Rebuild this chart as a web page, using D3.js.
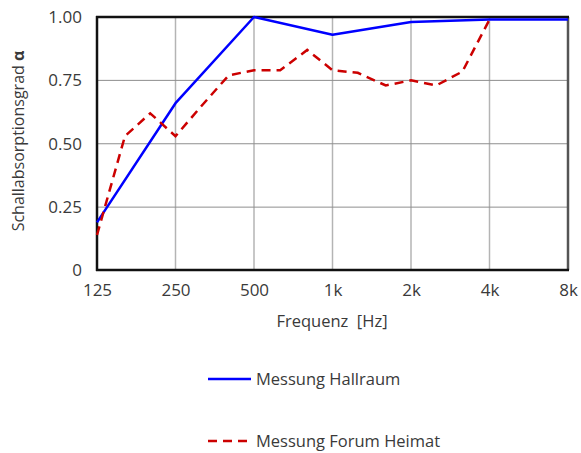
<!DOCTYPE html>
<html>
<head>
<meta charset="utf-8">
<script src="https://cdn.jsdelivr.net/npm/d3@7/dist/d3.min.js"></script>
<style>
  html, body { margin: 0; padding: 0; background: #fff; }
  svg { display: block; font-family: "Open Sans", "Noto Sans", sans-serif; }
</style>
</head>
<body>
<svg id="chart" width="581" height="453"></svg>
<script>
// Octave tick frequencies and their labels
const octaveFreqs = [125, 250, 500, 1000, 2000, 4000, 8000];
const octaveLabels = ["125", "250", "500", "1k", "2k", "4k", "8k"];
const yTicks = [0, 0.25, 0.5, 0.75, 1.0];
const yTickLabels = ["0", "0.25", "0.50", "0.75", "1.00"];

// Reverberation room measurement (octave bands)
const hallFreqs = [125, 250, 500, 1000, 2000, 4000, 8000];
const hallAlpha = [0.19, 0.66, 1.00, 0.93, 0.98, 0.99, 0.99];

// In-situ measurement (third-octave bands)
const forumFreqs = [125, 160, 200, 250, 315, 400, 500, 630, 800, 1000, 1250, 1600, 2000, 2500, 3150, 4000];
const forumAlpha = [0.14, 0.53, 0.62, 0.53, 0.65, 0.77, 0.79, 0.79, 0.87, 0.79, 0.78, 0.73, 0.75, 0.73, 0.785, 0.99];

const svg = d3.select("#chart");
const margin = { left: 97, right: 13, top: 17, bottom: 183 };
const W = 581, H = 453;
const x0 = margin.left, x1 = W - margin.right;
const y0 = H - margin.bottom, y1 = margin.top;

const x = d3.scaleLog().base(2).domain([125, 8000]).range([x0, x1]);
const y = d3.scaleLinear().domain([0, 1]).range([y0 + 0.5, y1]);

const textColor = "#3a3a3a";
const dashPattern = "9,6";

// Grid
const grid = svg.append("g");
grid.selectAll("line.v").data(octaveFreqs.slice(1, -1)).join("line")
  .attr("x1", d => x(d)).attr("x2", d => x(d))
  .attr("y1", y1).attr("y2", y0)
  .attr("stroke", "#b4b4b4").attr("stroke-width", 1.5);
grid.selectAll("line.h").data(yTicks.slice(1, -1)).join("line")
  .attr("x1", x0).attr("x2", x1)
  .attr("y1", d => y(d)).attr("y2", d => y(d))
  .attr("stroke", "#8e8e8e").attr("stroke-width", 1);

// Axes (labels only; frame drawn separately)
const yAxis = d3.axisLeft(y).tickValues(yTicks)
  .tickFormat((d, i) => yTickLabels[i]).tickSize(0).tickPadding(15);
const ya = svg.append("g").attr("transform", `translate(${x0},0)`).call(yAxis);
ya.select(".domain").remove();
ya.selectAll("text").attr("font-size", 17).attr("fill", textColor)
  .attr("font-family", "'Open Sans', sans-serif");

const xAxis = d3.axisBottom(x).tickValues(octaveFreqs)
  .tickFormat((d, i) => octaveLabels[i]).tickSize(0).tickPadding(14);
const xa = svg.append("g").attr("transform", `translate(0,${y0})`).call(xAxis);
xa.select(".domain").remove();
xa.selectAll("text").attr("font-size", 17).attr("fill", textColor)
  .attr("font-family", "'Open Sans', sans-serif");

// Frame
svg.append("line").attr("x1", x1).attr("x2", x1).attr("y1", y1).attr("y2", y0)
  .attr("stroke", "#555").attr("stroke-width", 2.5);
svg.append("line").attr("x1", x0 - 1).attr("x2", x1 + 1).attr("y1", y1).attr("y2", y1)
  .attr("stroke", "#111").attr("stroke-width", 2.5);
svg.append("line").attr("x1", x0).attr("x2", x0).attr("y1", y1 - 1).attr("y2", y0 + 1)
  .attr("stroke", "#111").attr("stroke-width", 2.5);
svg.append("line").attr("x1", x0 - 1).attr("x2", x1 + 1).attr("y1", y0).attr("y2", y0)
  .attr("stroke", "#111").attr("stroke-width", 2.5);

// Series
const line = d3.line().x(d => x(d[0])).y(d => y(d[1]));
svg.append("path")
  .datum(hallFreqs.map((f, i) => [f, hallAlpha[i]]))
  .attr("d", line).attr("fill", "none")
  .attr("stroke", "#0000ff").attr("stroke-width", 2.5)
  .attr("stroke-linejoin", "round");
svg.append("path")
  .datum(forumFreqs.map((f, i) => [f, forumAlpha[i]]))
  .attr("d", line).attr("fill", "none")
  .attr("stroke", "#cc0000").attr("stroke-width", 2.5)
  .attr("stroke-dasharray", dashPattern);

// Axis titles
svg.append("text")
  .attr("x", 332).attr("y", 327)
  .attr("text-anchor", "middle").attr("font-size", 16.5).attr("fill", textColor)
  .attr("xml:space", "preserve")
  .text("Frequenz  [Hz]");

const yt = svg.append("text")
  .attr("transform", "translate(24,141) rotate(-90)")
  .attr("text-anchor", "middle").attr("font-size", 16).attr("fill", textColor);
yt.append("tspan").text("Schallabsorptionsgrad ");
yt.append("tspan").attr("font-weight", "bold").text("α");

// Legend
const legendItems = [
  { label: "Messung Hallraum", color: "#0000ff", dash: null, y: 379 },
  { label: "Messung Forum Heimat", color: "#cc0000", dash: dashPattern, y: 441 }
];
const lg = svg.append("g");
legendItems.forEach(it => {
  lg.append("line").attr("x1", 208).attr("x2", 251)
    .attr("y1", it.y).attr("y2", it.y)
    .attr("stroke", it.color).attr("stroke-width", 2.5)
    .attr("stroke-dasharray", it.dash);
  lg.append("text").attr("x", 256).attr("y", it.y + 6)
    .attr("font-size", 16.5).attr("fill", textColor).text(it.label);
});
</script>
</body>
</html>
